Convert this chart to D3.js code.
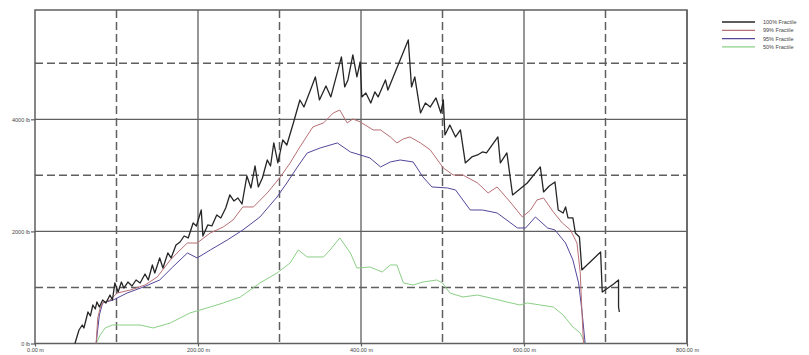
<!DOCTYPE html>
<html>
<head>
<meta charset="utf-8">
<script src="https://cdn.jsdelivr.net/npm/d3@7"></script>
<style>
  html, body { margin: 0; padding: 0; background: #fff; }
  svg { display: block; }
  text { font-family: "Liberation Sans", Arial, sans-serif; fill: #444; }
</style>
</head>
<body>
<svg id="chart" width="809" height="355"></svg>
<script>
// Distance along the span (m) and load (lb) for each fractile curve
const fractile100 = [
  [49,0],[54,241],[58,330],[60,277],[65,562],[68,491],[71,687],[74,616],[76,741],[79,651],
  [83,776],[87,723],[92,865],[95,776],[98,1080],[102,919],[106,1097],[109,990],[114,1097],[119,1026],
  [124,1133],[129,1080],[135,1240],[139,1133],[144,1401],[147,1258],[153,1526],[157,1347],[163,1615],[167,1526],
  [173,1758],[178,1811],[183,1918],[188,1883],[194,2150],[198,2097],[204,2382],[206,1918],[212,2115],[217,2097],
  [223,2293],[228,2240],[234,2418],[239,2650],[244,2543],[249,2596],[254,2489],[260,2989],[265,2775],[270,3167],
  [274,2793],[279,2953],[285,3274],[289,3167],[293,3578],[298,3221],[304,3631],[309,3542],[317,3935],[325,4345],
  [330,4220],[338,4523],[344,4756],[349,4345],[357,4595],[363,4399],[376,5113],[380,4577],[384,4702],[390,5148],
  [395,4756],[399,5023],[401,4399],[406,4470],[412,4291],[417,4488],[421,4399],[430,4702],[433,4523],[458,5416],
  [462,4577],[466,4756],[473,4113],[479,4291],[485,4220],[492,4381],[498,4113],[501,4345],[503,3721],[509,3899],
  [516,3685],[522,3810],[528,3221],[536,3328],[543,3364],[549,3417],[554,3400],[568,3685],[571,3221],[579,3400],
  [586,2650],[604,2864],[620,3150],[624,2704],[631,2811],[638,2882],[642,2382],[648,2329],[651,2436],[654,2240],
  [660,2240],[663,1972],[668,1901],[671,1312],[676,1383],[694,1633],[696,919],[703,990],[710,1062],[716,1133],
  [716,651],[717,562]
];
const fractile99 = [
  [75,0],[77,455],[80,634],[83,723],[92,776],[101,901],[117,955],[135,1044],[150,1187],[166,1490],
  [178,1668],[187,1793],[199,1793],[215,1972],[231,2079],[243,2204],[255,2436],[268,2436],[285,2686],[301,2971],
  [313,3221],[325,3507],[341,3864],[354,3935],[366,4113],[374,4166],[383,3935],[390,4006],[399,3953],[415,3810],
  [424,3810],[436,3685],[444,3578],[452,3650],[460,3685],[473,3578],[485,3453],[501,3132],[513,3007],[525,3007],
  [543,2864],[556,2686],[567,2793],[583,2525],[598,2257],[608,2382],[616,2561],[624,2596],[636,2347],[647,2150],
  [657,2025],[665,1793],[669,1258],[671,597],[673,0]
];
const fractile95 = [
  [75,0],[79,509],[83,723],[96,776],[113,901],[133,1008],[153,1133],[169,1365],[187,1615],[199,1526],
  [215,1668],[236,1847],[255,2025],[276,2257],[297,2614],[309,2864],[322,3150],[334,3399],[350,3489],[371,3578],
  [387,3417],[399,3364],[411,3310],[424,3150],[436,3239],[448,3274],[464,3239],[476,2971],[487,2793],[506,2775],
  [516,2739],[534,2382],[549,2382],[567,2329],[592,2061],[602,2061],[614,2257],[629,2061],[638,2025],[651,1793],
  [660,1490],[667,1080],[671,597],[675,0]
];
const fractile50 = [
  [75,0],[80,152],[86,277],[95,330],[104,330],[129,330],[145,277],[166,366],[190,544],[211,634],
  [231,723],[252,830],[276,1080],[297,1258],[313,1437],[323,1668],[334,1544],[354,1544],[362,1668],[374,1883],
  [387,1615],[395,1347],[411,1365],[426,1276],[436,1401],[444,1401],[452,1080],[464,1044],[476,1097],[493,1133],
  [500,1080],[509,901],[525,830],[543,865],[559,812],[579,741],[595,687],[604,723],[620,687],[636,651],
  [648,509],[660,294],[669,187],[675,0]
];

const seriesNames = ["100% Fractile", "99% Fractile", "95% Fractile", "50% Fractile"];
const seriesColors = ["#262626", "#b86f74", "#54479a", "#8ccf86"];
const seriesWidths = [1.3, 1, 1, 1];
const seriesData = [fractile100, fractile99, fractile95, fractile50];

const xTicks = [0, 200, 400, 600, 800];
const xMinor = [100, 300, 500, 700];
const yTicks = [0, 2000, 4000];
const yMinor = [1000, 3000, 5000];
const xDomain = [0, 800];
const yDomain = [0, 5950];

const margin = { left: 35, right: 122, top: 10, bottom: 11.5 };
const width = 809, height = 355;
const gridColor = "#5f5f5f";

const svg = d3.select("#chart");
const x = d3.scaleLinear().domain(xDomain).range([margin.left, width - margin.right]);
const y = d3.scaleLinear().domain(yDomain).range([height - margin.bottom, margin.top]);

const grid = svg.append("g").attr("class", "grid");

// dashed half-step grid lines
grid.selectAll("line.xminor").data(xMinor).join("line")
  .attr("x1", d => x(d)).attr("x2", d => x(d))
  .attr("y1", y.range()[1]).attr("y2", y.range()[0])
  .attr("stroke", gridColor).attr("stroke-width", 1.5).attr("stroke-dasharray", "8,4");
grid.selectAll("line.yminor").data(yMinor).join("line")
  .attr("x1", x.range()[0]).attr("x2", x.range()[1])
  .attr("y1", d => y(d)).attr("y2", d => y(d))
  .attr("stroke", gridColor).attr("stroke-width", 1.5).attr("stroke-dasharray", "8,4");

// solid major grid lines
grid.selectAll("line.xmajor").data(xTicks.slice(1)).join("line")
  .attr("x1", d => x(d)).attr("x2", d => x(d))
  .attr("y1", y.range()[1]).attr("y2", y.range()[0])
  .attr("stroke", gridColor).attr("stroke-width", 1.3);
grid.selectAll("line.ymajor").data(yTicks.slice(1)).join("line")
  .attr("x1", x.range()[0]).attr("x2", x.range()[1])
  .attr("y1", d => y(d)).attr("y2", d => y(d))
  .attr("stroke", gridColor).attr("stroke-width", 1.3);

// plot frame
grid.append("rect")
  .attr("x", x.range()[0]).attr("y", y.range()[1])
  .attr("width", x.range()[1] - x.range()[0]).attr("height", y.range()[0] - y.range()[1])
  .attr("fill", "none").attr("stroke", gridColor).attr("stroke-width", 1.5);

// axes
const fmtX = d => d3.format(".2f")(d) + " m";
const fmtY = d => d + " lb";
const xAxis = svg.append("g").attr("transform", `translate(0,${y.range()[0]})`)
  .call(d3.axisBottom(x).tickValues(xTicks).tickFormat(fmtX).tickSize(3).tickPadding(2));
const yAxis = svg.append("g").attr("transform", `translate(${x.range()[0]},0)`)
  .call(d3.axisLeft(y).tickValues(yTicks).tickFormat(fmtY).tickSize(4).tickPadding(1));
[xAxis, yAxis].forEach(a => {
  a.select(".domain").remove();
  a.selectAll(".tick line").attr("stroke", gridColor).attr("stroke-width", 1.2);
  a.selectAll(".tick text").attr("font-size", 5.5).attr("fill", "#444")
    .attr("font-family", "'Liberation Sans', Arial, sans-serif");
});

// fractile curves
const line = d3.line().x(d => x(d[0])).y(d => y(d[1]));
svg.append("g").selectAll("path").data(seriesData.map((d, i) => ({ d, i })).reverse()).join("path")
  .attr("d", s => line(s.d))
  .attr("fill", "none")
  .attr("stroke", s => seriesColors[s.i])
  .attr("stroke-width", s => seriesWidths[s.i])
  .attr("stroke-linejoin", "round");

// legend
const legend = svg.append("g").attr("transform", "translate(722,22)");
const rows = legend.selectAll("g").data(seriesNames).join("g")
  .attr("transform", (d, i) => `translate(0,${i * 8.3})`);
rows.append("line").attr("x1", 0).attr("x2", 33).attr("y1", 0).attr("y2", 0)
  .attr("stroke", (d, i) => seriesColors[i]).attr("stroke-width", (d, i) => seriesWidths[i] + 0.3);
rows.append("text").attr("x", 41).attr("y", 2).attr("font-size", 5.5).attr("fill", "#444").text(d => d);
</script>
</body>
</html>
